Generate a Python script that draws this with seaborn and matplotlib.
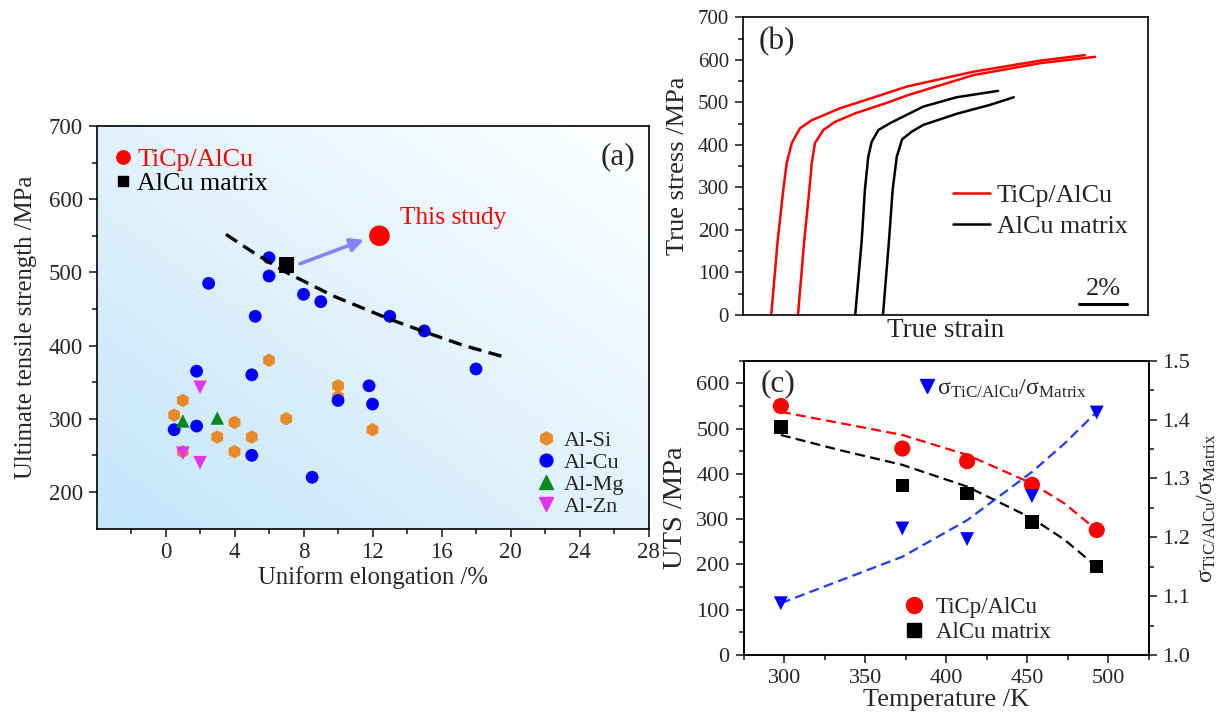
import numpy as np
import matplotlib
matplotlib.use("Agg")
import matplotlib.pyplot as plt
import seaborn as sns
from matplotlib.lines import Line2D
from matplotlib.ticker import FixedLocator, NullLocator

sns.set_style("ticks")
plt.rcParams['font.family'] = ['Liberation Serif', 'DejaVu Serif']
plt.rcParams['mathtext.fontset'] = 'custom'
plt.rcParams['mathtext.rm'] = 'Liberation Serif'
plt.rcParams['mathtext.it'] = 'Liberation Serif:italic'
plt.rcParams['mathtext.bf'] = 'Liberation Serif:bold'
plt.rcParams['axes.linewidth'] = 1.2
plt.rcParams['axes.edgecolor'] = 'black'

# ---------------- Panel (a) data ----------------
alsi_x = [0.5, 1, 1, 3, 4, 4, 5, 6, 7, 10, 10, 12]
alsi_y = [305, 325, 255, 275, 295, 255, 275, 380, 300, 345, 330, 285]
alcu_x = [0.5, 1.8, 1.8, 2.5, 5, 5, 5.2, 6, 6, 8, 8.5, 9, 10, 11.8, 12, 13, 15, 18]
alcu_y = [285, 290, 365, 485, 360, 250, 440, 520, 495, 470, 220, 460, 325, 345, 320, 440, 420, 368]
almg_x = [1, 3]
almg_y = [297, 301]
alzn_x = [2, 1, 2]
alzn_y = [343, 253, 240]
study_x = [12.4]
study_y = [550]
matrix_x = [7.0]
matrix_y = [510]
trend_x = [3.5, 5.1, 7.0, 9.7, 13.0, 15.1, 17.3, 19.7]
trend_y = [552, 527, 500, 468, 436, 418, 400, 384]

# ---------------- Panel (b) data ----------------
red1_strain = [1.18, 1.45, 1.68, 1.82, 2.03, 2.37, 2.86, 4.03, 5.34, 6.79, 9.55, 12.31, 14.17]
red1_stress = [0, 176, 294, 357, 404, 439, 458, 486, 510, 537, 572, 598, 611]
red2_strain = [2.29, 2.55, 2.76, 2.86, 2.99, 3.34, 3.82, 4.65, 6.03, 6.79, 9.55, 12.31, 14.59]
red2_stress = [0, 176, 294, 357, 404, 435, 454, 474, 500, 516, 564, 592, 607]
blk1_strain = [4.66, 4.93, 5.06, 5.2, 5.34, 5.62, 6.1, 7.48, 8.86, 10.58]
blk1_stress = [0, 176, 294, 372, 407, 435, 451, 490, 512, 527]
blk2_strain = [5.81, 6.06, 6.21, 6.38, 6.6, 7.0, 7.48, 8.86, 10.24, 11.23]
blk2_stress = [0, 176, 294, 372, 413, 431, 447, 473, 494, 512]

# ---------------- Panel (c) data ----------------
temps = [298, 373, 413, 453, 493]
uts_ticp = [550, 456, 428, 376, 276]
uts_matrix = [504, 374, 357, 294, 195]
ratio = [1.088, 1.215, 1.197, 1.270, 1.412]
fit_T = [298, 335, 373, 413, 453, 473, 493]
fit_ticp = [537, 512, 486, 442, 379, 335, 276]
fit_matrix = [486, 452, 420, 372, 302, 255, 195]
fit_ratio = [1.088, 1.127, 1.167, 1.229, 1.311, 1.359, 1.413]

C_SI = '#E8892A'
C_CU = '#0000FF'
C_MG = '#0A8A1E'
C_ZN = '#E633F0'

fig = plt.figure(figsize=(12.25, 7.14), dpi=100)
ax_a = fig.add_axes([0.0788, 0.2598, 0.4506, 0.5637])
ax_b = fig.add_axes([0.6063, 0.5588, 0.3311, 0.4170])
ax_c = fig.add_axes([0.6070, 0.0826, 0.3306, 0.4122])


def frame(ax):
    for s in ax.spines.values():
        s.set_visible(True)
        s.set_linewidth(1.2)
        s.set_color('black')


# ================= Panel (a) =================
gx, gy = np.meshgrid(np.linspace(0, 1, 300), np.linspace(0, 1, 300))
t = (gx + gy) / 2.0
c0 = np.array([0.77, 0.90, 0.98])
c1 = np.array([1.0, 1.0, 1.0])
img = c0[None, None, :] * (1 - t[..., None]) + c1[None, None, :] * t[..., None]
ax_a.imshow(img, extent=[0, 1, 0, 1], transform=ax_a.transAxes, origin='lower',
            aspect='auto', zorder=0, interpolation='bilinear')

sns.scatterplot(x=alsi_x, y=alsi_y, ax=ax_a, marker='h', s=95, color=C_SI,
                edgecolor='none', linewidth=0, zorder=3, legend=False)
sns.scatterplot(x=alcu_x, y=alcu_y, ax=ax_a, marker='o', s=85, color=C_CU,
                edgecolor='none', linewidth=0, zorder=4, legend=False)
sns.scatterplot(x=almg_x, y=almg_y, ax=ax_a, marker='^', s=95, color=C_MG,
                edgecolor='none', linewidth=0, zorder=4, legend=False)
sns.scatterplot(x=alzn_x, y=alzn_y, ax=ax_a, marker='v', s=95, color=C_ZN,
                edgecolor='none', linewidth=0, zorder=4, legend=False)
sns.lineplot(x=trend_x, y=trend_y, ax=ax_a, color='black', lw=2.4,
             sort=False, estimator=None, zorder=5)
ax_a.lines[-1].set_dashes((4, 2.2))
sns.scatterplot(x=matrix_x, y=matrix_y, ax=ax_a, marker='s', s=125, color='black',
                edgecolor='none', linewidth=0, zorder=6, legend=False)
sns.scatterplot(x=study_x, y=study_y, ax=ax_a, marker='o', s=220, color='red',
                edgecolor='none', linewidth=0, zorder=6, legend=False)
ax_a.annotate('', xy=(11.5, 544.5), xytext=(7.8, 511.8),
              arrowprops=dict(arrowstyle='-|>', color='#8585F5', lw=2.6,
                              mutation_scale=20, shrinkA=0, shrinkB=0), zorder=6)
ax_a.text(13.6, 574, 'This study', color='red', fontsize=18.3, ha='left', va='center', zorder=7)
ax_a.text(0.9755, 0.923, '(a)', transform=ax_a.transAxes, fontsize=22.5,
          ha='right', va='center', zorder=7)

ax_a.set_xlim(-4, 28)
ax_a.set_ylim(150, 700)
ax_a.xaxis.set_major_locator(FixedLocator([0, 4, 8, 12, 16, 20, 24, 28]))
ax_a.xaxis.set_minor_locator(FixedLocator([-2, 2, 6, 10, 14, 18, 22, 26]))
ax_a.yaxis.set_major_locator(FixedLocator([200, 300, 400, 500, 600, 700]))
ax_a.yaxis.set_minor_locator(FixedLocator([250, 350, 450, 550, 650]))
ax_a.tick_params(which='both', direction='out', top=False, right=False, width=1.2,
                 labelsize=16.5, pad=4)
ax_a.tick_params(which='major', length=6)
ax_a.tick_params(which='minor', length=3.5)
ax_a.set_xlabel('Uniform elongation /%', fontsize=17.8, labelpad=2)
ax_a.set_ylabel('Ultimate tensile strength /MPa', fontsize=17.8, labelpad=8)
frame(ax_a)

h_top = [Line2D([], [], marker='o', ls='none', color='red', markersize=9.6, label='TiCp/AlCu'),
         Line2D([], [], marker='s', ls='none', color='black', markersize=7.4, label='AlCu matrix')]
leg1 = ax_a.legend(handles=h_top, loc='center left', bbox_to_anchor=(0.0335, 0.8875),
                   frameon=False, fontsize=18.7, handlelength=0.6, handletextpad=0.25,
                   labelspacing=0.05, borderpad=0, borderaxespad=0,
                   labelcolor=['red', 'black'])
ax_a.add_artist(leg1)
h_bot = [Line2D([], [], marker='h', ls='none', color=C_SI, markersize=9.5, label='Al-Si'),
         Line2D([], [], marker='o', ls='none', color=C_CU, markersize=9.2, label='Al-Cu'),
         Line2D([], [], marker='^', ls='none', color=C_MG, markersize=9.5, label='Al-Mg'),
         Line2D([], [], marker='v', ls='none', color=C_ZN, markersize=9.5, label='Al-Zn')]
ax_a.legend(handles=h_bot, loc='center left', bbox_to_anchor=(0.803, 0.136),
            frameon=False, fontsize=16, handlelength=0.6, handletextpad=0.5,
            labelspacing=0.07, borderpad=0, borderaxespad=0)

# ================= Panel (b) =================
for xs, ys, col in [(red1_strain, red1_stress, 'red'), (red2_strain, red2_stress, 'red'),
                    (blk1_strain, blk1_stress, 'black'), (blk2_strain, blk2_stress, 'black')]:
    sns.lineplot(x=xs, y=ys, ax=ax_b, color=col, lw=1.8, sort=False, estimator=None)
for ln in ax_b.lines:
    ln.set_solid_joinstyle('round')
    ln.set_solid_capstyle('round')
ax_b.set_xlim(0, 16.8)
ax_b.set_ylim(0, 700)
ax_b.xaxis.set_major_locator(NullLocator())
ax_b.xaxis.set_minor_locator(NullLocator())
ax_b.yaxis.set_major_locator(FixedLocator(list(range(0, 701, 100))))
ax_b.yaxis.set_minor_locator(FixedLocator(list(range(50, 700, 100))))
ax_b.tick_params(which='both', direction='out', top=False, right=False, bottom=False,
                 width=1.2, labelsize=15, pad=4)
ax_b.tick_params(which='major', length=6)
ax_b.tick_params(which='minor', length=3.5)
ax_b.set_xlabel('True strain', fontsize=19.5, labelpad=2)
ax_b.set_ylabel('True stress /MPa', fontsize=19, labelpad=6)
ax_b.text(0.038, 0.918, '(b)', transform=ax_b.transAxes, fontsize=22.5, ha='left', va='center')
ax_b.plot([13.92, 15.93], [26, 26], color='black', lw=2.2)
ax_b.text(14.93, 60, '2%', fontsize=19, ha='center', va='center')
h_b = [Line2D([], [], color='red', lw=1.8, label='TiCp/AlCu'),
       Line2D([], [], color='black', lw=1.8, label='AlCu matrix')]
ax_b.legend(handles=h_b, loc='center left', bbox_to_anchor=(0.5185, 0.35), frameon=False,
            fontsize=18.7, handlelength=1.43, handletextpad=0.26, labelspacing=0.3,
            borderpad=0, borderaxespad=0)
frame(ax_b)

# ================= Panel (c) =================
sns.lineplot(x=fit_T, y=fit_ticp, ax=ax_c, color='red', lw=1.6, sort=False, estimator=None, zorder=2)
ax_c.lines[-1].set_dashes((4.5, 2.4))
sns.lineplot(x=fit_T, y=fit_matrix, ax=ax_c, color='black', lw=1.6, sort=False, estimator=None, zorder=2)
ax_c.lines[-1].set_dashes((4.5, 2.4))
sns.scatterplot(x=temps, y=uts_ticp, ax=ax_c, marker='o', s=135, color='red',
                edgecolor='none', linewidth=0, zorder=3, legend=False)
sns.scatterplot(x=temps, y=uts_matrix, ax=ax_c, marker='s', s=95, color='black',
                edgecolor='none', linewidth=0, zorder=3, legend=False)
ax_c.set_xlim(275, 525)
ax_c.set_ylim(0, 650)
ax_c.xaxis.set_major_locator(FixedLocator([300, 350, 400, 450, 500]))
ax_c.xaxis.set_minor_locator(FixedLocator([275, 325, 375, 425, 475, 525]))
ax_c.yaxis.set_major_locator(FixedLocator(list(range(0, 601, 100))))
ax_c.yaxis.set_minor_locator(FixedLocator(list(range(50, 651, 100))))
ax_c.tick_params(which='both', direction='out', top=False, right=False, width=1.2,
                 labelsize=16, pad=4)
ax_c.tick_params(which='major', length=6)
ax_c.tick_params(which='minor', length=3.5)
ax_c.set_xlabel('Temperature /K', fontsize=19, labelpad=1)
ax_c.set_ylabel('UTS /MPa', fontsize=20.5, labelpad=6)
ax_c.text(0.041, 0.923, '(c)', transform=ax_c.transAxes, fontsize=22.5, ha='left', va='center')
h_c = [Line2D([], [], marker='o', ls='none', color='red', markersize=11.5, label='TiCp/AlCu'),
       Line2D([], [], marker='s', ls='none', color='black', markersize=9.5, label='AlCu matrix')]
ax_c.legend(handles=h_c, loc='center left', bbox_to_anchor=(0.402, 0.119), frameon=False,
            fontsize=16.5, handlelength=0.7, handletextpad=0.59, labelspacing=0.15,
            borderpad=0, borderaxespad=0)
frame(ax_c)

ax2 = ax_c.twinx()
sns.lineplot(x=fit_T, y=fit_ratio, ax=ax2, color='#1E3CFF', lw=1.6, sort=False, estimator=None, zorder=2)
ax2.lines[-1].set_dashes((4.5, 2.4))
sns.scatterplot(x=temps, y=ratio, ax=ax2, marker='v', s=100, color='#0000FF',
                edgecolor='none', linewidth=0, zorder=3, legend=False)
ax2.set_ylim(1.0, 1.5)
ax2.yaxis.set_major_locator(FixedLocator([1.0, 1.1, 1.2, 1.3, 1.4, 1.5]))
ax2.yaxis.set_minor_locator(FixedLocator([1.05, 1.15, 1.25, 1.35, 1.45]))
ax2.tick_params(which='both', direction='out', width=1.2, labelsize=16, pad=4)
ax2.tick_params(which='major', length=6)
ax2.tick_params(which='minor', length=3.5)
sig_label = r'$\mathrm{\sigma_{TiC/AlCu}/\sigma_{Matrix}}$'
ax2.set_ylabel(sig_label, fontsize=17.5, labelpad=4)
h_r = [Line2D([], [], marker='v', ls='none', color='#0000FF', markersize=10, label=sig_label)]
ax2.legend(handles=h_r, loc='center left', bbox_to_anchor=(0.4346, 0.906), frameon=False,
           fontsize=17.5, handlelength=0.6, handletextpad=0.12, borderpad=0, borderaxespad=0)
frame(ax2)

fig.savefig('out.png', dpi=100)
